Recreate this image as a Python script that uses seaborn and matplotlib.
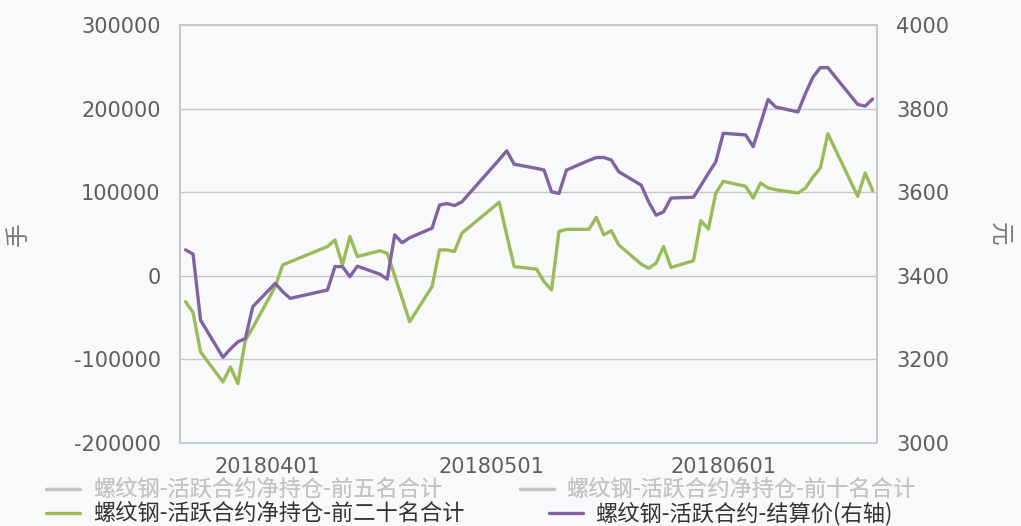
import pandas as pd
import numpy as np
import matplotlib
matplotlib.use("Agg")
import matplotlib.pyplot as plt
import matplotlib.dates as mdates
from matplotlib.lines import Line2D
import seaborn as sns

# trading days shown on the chart
dates = ['2018-03-21', '2018-03-22', '2018-03-23', '2018-03-26', '2018-03-27', '2018-03-28',
         '2018-03-29', '2018-03-30', '2018-04-02', '2018-04-03', '2018-04-04', '2018-04-09',
         '2018-04-10', '2018-04-11', '2018-04-12', '2018-04-13', '2018-04-16', '2018-04-17',
         '2018-04-18', '2018-04-19', '2018-04-20', '2018-04-23', '2018-04-24', '2018-04-25',
         '2018-04-26', '2018-04-27', '2018-05-02', '2018-05-03', '2018-05-04', '2018-05-07',
         '2018-05-08', '2018-05-09', '2018-05-10', '2018-05-11', '2018-05-14', '2018-05-15',
         '2018-05-16', '2018-05-17', '2018-05-18', '2018-05-21', '2018-05-22', '2018-05-23',
         '2018-05-24', '2018-05-25', '2018-05-28', '2018-05-29', '2018-05-30', '2018-05-31',
         '2018-06-01', '2018-06-04', '2018-06-05', '2018-06-06', '2018-06-07', '2018-06-08',
         '2018-06-11', '2018-06-12', '2018-06-13', '2018-06-14', '2018-06-15', '2018-06-19',
         '2018-06-20', '2018-06-21']

# 前二十名合计 (手, left axis)
top20 = [-31000, -44000, -91000, -127000, -109000, -129000,
         -77000, -62000, -13000, 13000, 16700, 35000,
         43000, 13000, 47000, 23000, 30000, 27000,
         0, -27000, -55000, -13000, 31000, 31000,
         29000, 51000, 88000, 49000, 11000, 8000,
         -7000, -17000, 53000, 55600, 55600, 70000,
         49000, 54000, 37000, 14000, 9000, 15000,
         35000, 10000, 18000, 66000, 56000, 99000,
         113000, 107000, 93000, 111000, 105000, 103000,
         99000, 105000, 118000, 129000, 170000, 95000,
         123000, 102000]

# 结算价 (元, right axis)
settle = [3462, 3452, 3294, 3205, 3225, 3242,
          3250, 3326, 3382, 3362, 3346, 3366,
          3422, 3422, 3398, 3423, 3404, 3392,
          3498, 3479, 3491, 3514, 3569, 3573,
          3568, 3577, 3678, 3699, 3667, 3657,
          3653, 3601, 3597, 3653, 3676, 3683,
          3683, 3677, 3649, 3617, 3577, 3545,
          3553, 3586, 3588, 3616, 3645, 3673,
          3741, 3737, 3709, 3765, 3822, 3804,
          3792, 3836, 3875, 3898, 3898, 3810,
          3806, 3823]

labels = ['螺纹钢-活跃合约净持仓-前五名合计', '螺纹钢-活跃合约净持仓-前十名合计',
          '螺纹钢-活跃合约净持仓-前二十名合计', '螺纹钢-活跃合约-结算价(右轴)']

df = pd.DataFrame({'date': pd.to_datetime(dates), 'top20': top20, 'settle': settle})

sns.set_theme(style='white')
plt.rcParams['font.family'] = ['Noto Sans CJK SC', 'DejaVu Sans']
plt.rcParams['axes.unicode_minus'] = False

bg = '#f8f9fb'
green = '#9bbb59'
purple = '#8064a2'
tick_c = '#5e5e5e'

fig = plt.figure(figsize=(10.21, 5.26), dpi=100, facecolor=bg)
ax = fig.add_axes([180/1021, 1-443/526, 697/1021, 418/526])
ax.set_facecolor(bg)
ax2 = ax.twinx()

sns.lineplot(data=df, x='date', y='top20', ax=ax, color=green, lw=2.4)
sns.lineplot(data=df, x='date', y='settle', ax=ax2, color=purple, lw=2.4)

ax.set_xlim(pd.Timestamp('2018-03-20 06:00'), pd.Timestamp('2018-06-21 14:00'))
ax.set_ylim(-200000, 300000)
ax.set_yticks(np.arange(-200000, 300001, 100000))
ax2.set_ylim(3000, 4000)
ax2.set_yticks(np.arange(3000, 4001, 200))

ax.xaxis.set_major_locator(mdates.MonthLocator())
ax.xaxis.set_major_formatter(mdates.DateFormatter('%Y%m%d'))

ax.grid(axis='y', color='#c8c8c8', lw=1)
ax.set_axisbelow(True)

for a in (ax, ax2):
    for s in a.spines.values():
        s.set_color('#c6c6c6')
        s.set_linewidth(1.2)
    a.spines['bottom'].set_color('#c0cfe0')

ax.tick_params(axis='x', length=6, width=1.2, color='#c0cfe0', pad=4,
               labelsize=15, labelcolor=tick_c)
ax.tick_params(axis='y', length=0, pad=14, labelsize=15, labelcolor=tick_c)
ax2.tick_params(axis='y', length=0, pad=14, labelsize=15, labelcolor=tick_c)
for lab in ax.get_xticklabels() + ax.get_yticklabels() + ax2.get_yticklabels():
    lab.set_family('DejaVu Sans')

ax.set_xlabel('')
ax.set_ylabel('手', fontsize=17, color='#7a7a7a', rotation=90)
ax.yaxis.set_label_coords(-0.215, 0.5)
ax2.set_ylabel('元', fontsize=17, color='#7a7a7a', rotation=-90, va='center')
ax2.yaxis.set_label_coords(1.176, 0.5)

# legend, two rows like the original flowing legend
gray_h = [Line2D([], [], color='#c4c4c4', lw=2.4), Line2D([], [], color='#c4c4c4', lw=2.4)]
act_h = [Line2D([], [], color=green, lw=2.4), Line2D([], [], color=purple, lw=2.4)]
leg1 = fig.legend(gray_h, labels[:2], loc='center left', bbox_to_anchor=(46/1021, 1-490/526),
                  ncol=2, frameon=False, fontsize=16, handlelength=1.55, handletextpad=0.55,
                  columnspacing=3.5, borderpad=0, borderaxespad=0)
for t in leg1.get_texts():
    t.set_color('#c4c4c4')
leg2 = fig.legend(act_h, labels[2:], loc='center left', bbox_to_anchor=(46/1021, 1-514/526),
                  ncol=2, frameon=False, fontsize=16, handlelength=1.55, handletextpad=0.55,
                  columnspacing=3.8, borderpad=0, borderaxespad=0)
for t in leg2.get_texts():
    t.set_color('#333333')
fig.add_artist(leg1)

fig.savefig('out.png', dpi=100, facecolor=bg)
